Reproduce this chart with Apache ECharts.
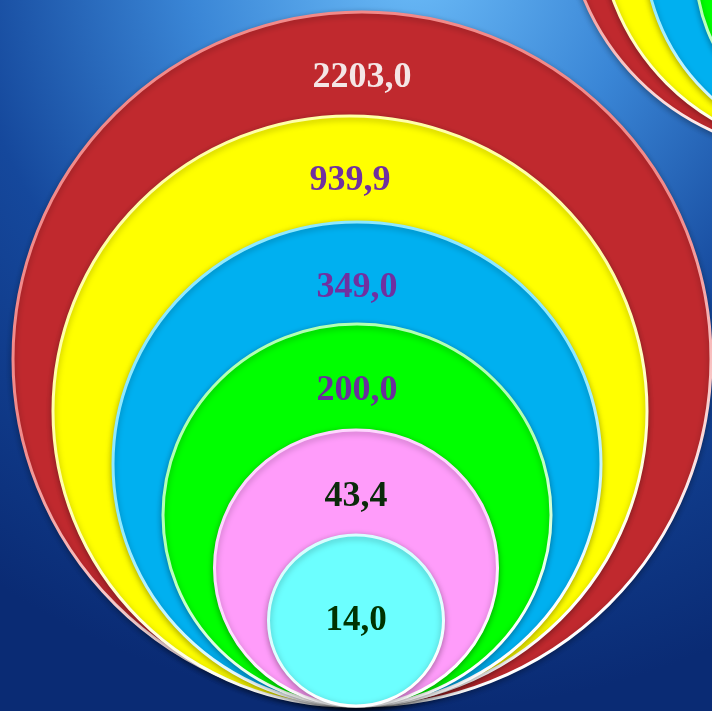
<!DOCTYPE html>
<html>
<head>
<meta charset="utf-8">
<script src="https://cdn.jsdelivr.net/npm/echarts@6/dist/echarts.min.js"></script>
<style>
  html, body { margin: 0; padding: 0; }
  #chart { width: 712px; height: 711px; }
</style>
</head>
<body>
<div id="chart"></div>
<script>
  // values, largest first (drawn first, so smaller circles sit on top)
  const values = [2203.0, 939.9, 349.0, 200.0, 43.4, 14.0];
  const fillColors = ['#c0292e', '#ffff00', '#00b0f0', '#00ff00', '#ff9cfa', '#6cffff'];
  const rimColors = ['#f28a8a', '#ffffa8', '#8ee9ff', '#b4ffb4', '#ffd6ff', '#d8ffff'];
  const labelColors = ['#f4e6e6', '#7030a0', '#7030a0', '#6a2e9c', '#0a2a0a', '#003300'];

  // neighbour slide's nested circles, only its rim shows in the top right
  const nextColors = ['#c0292e', '#ffff00', '#00b0f0', '#00ff00'];
  const nextRims = ['#f28a8a', '#ffffa8', '#8ee9ff', '#b4ffb4'];

  // layout: all circles touch at one bottom point
  const anchor = [356, 706];
  const sizes = [[698, 694], [594, 590], [488, 484], [388, 382], [283, 276], [175, 171]];
  const shiftX = [6, -6, 1, 1, 0, 0];
  const labelTop = [67, 66, 67, 68, 68, null];

  const nextAnchor = [815, 153];
  const nextSizes = [500, 462, 412, 328];
  const nextShift = [[0, -250], [15, -233], [35, -208], [45, -183]];

  const fmt = v => v.toFixed(1).replace('.', ',');

  function rim(light) {
    return new echarts.graphic.LinearGradient(0, 0, 0.35, 1, [
      { offset: 0, color: light },
      { offset: 0.55, color: light },
      { offset: 1, color: '#ffffff' }
    ]);
  }

  let mainData = values.map((v, i) => ({
    value: anchor,
    name: fmt(v),
    symbolSize: sizes[i],
    symbolOffset: [shiftX[i], -sizes[i][1] / 2],
    itemStyle: {
      color: fillColors[i],
      borderColor: rim(rimColors[i]),
      borderWidth: 3
    },
    label: {
      color: labelColors[i],
      fontSize: i === 5 ? 35 : 36,
      position: labelTop[i] === null ? 'inside' : ['50%', labelTop[i]],
      align: 'center',
      verticalAlign: 'middle'
    }
  }));

  let nextData = nextColors.map((c, i) => ({
    value: nextAnchor,
    symbolSize: nextSizes[i],
    symbolOffset: nextShift[i],
    itemStyle: {
      color: c,
      borderColor: rim(nextRims[i]),
      borderWidth: 3
    }
  }));

  let myChart = echarts.init(document.getElementById('chart'));
  let option = {
    animation: false,
    backgroundColor: new echarts.graphic.RadialGradient(0.58, -0.05, 1.05, [
      { offset: 0, color: '#6cbcf8' },
      { offset: 0.3, color: '#3a86d6' },
      { offset: 0.6, color: '#15489c' },
      { offset: 1, color: '#0a2b74' }
    ]),
    grid: { left: 0, right: 0, top: 0, bottom: 0 },
    xAxis: { type: 'value', min: 0, max: 712, show: false },
    yAxis: { type: 'value', min: 0, max: 711, inverse: true, show: false },
    series: [
      {
        type: 'scatter',
        clip: false,
        silent: true,
        symbol: 'circle',
        itemStyle: { opacity: 1, shadowBlur: 6, shadowColor: 'rgba(0,0,0,0.3)', shadowOffsetY: 2 },
        data: nextData
      },
      {
        type: 'scatter',
        clip: false,
        silent: true,
        symbol: 'circle',
        itemStyle: { opacity: 1, shadowBlur: 6, shadowColor: 'rgba(0,0,0,0.3)', shadowOffsetY: 2 },
        label: {
          show: true,
          formatter: '{b}',
          fontFamily: '"Liberation Serif", "DejaVu Serif", serif',
          fontWeight: 'bold'
        },
        data: mainData
      }
    ]
  };
  myChart.setOption(option);
  window.addEventListener('resize', () => { myChart.resize(); });
</script>
</body>
</html>
